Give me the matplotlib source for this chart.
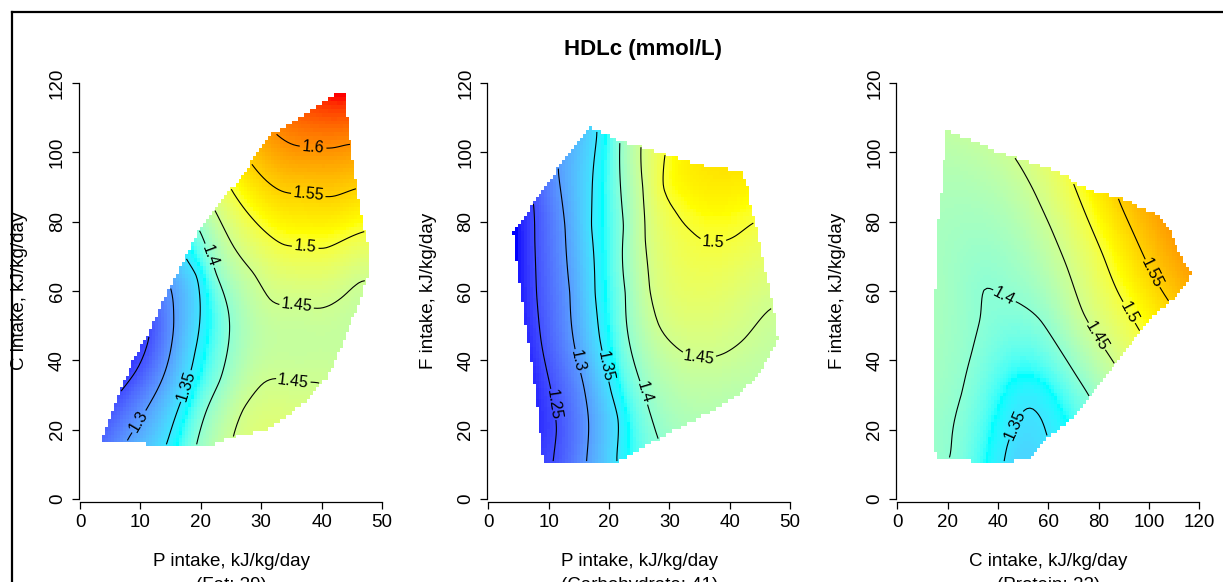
import numpy as np
import matplotlib
matplotlib.use("Agg")
import matplotlib.pyplot as plt
from matplotlib.colors import ListedColormap
from matplotlib.path import Path
from matplotlib.lines import Line2D

plt.rcParams['font.family'] = ['Liberation Sans', 'DejaVu Sans']

W, H, DPI = 1223, 582, 100

TITLE = "HDLc (mmol/L)"
X_LABELS = ["P intake, kJ/kg/day", "P intake, kJ/kg/day", "C intake, kJ/kg/day"]
X_NOTES = ["(Fat: 39)", "(Carbohydrate: 41)", "(Protein: 22)"]
Y_LABELS = ["C intake, kJ/kg/day", "F intake, kJ/kg/day", "F intake, kJ/kg/day"]
X_TICKS = [[0, 10, 20, 30, 40, 50], [0, 10, 20, 30, 40, 50], [0, 20, 40, 60, 80, 100, 120]]
Y_TICKS = [0, 20, 40, 60, 80, 100, 120]
LEVELS = [1.25, 1.30, 1.35, 1.40, 1.45, 1.50, 1.55, 1.60]
COLOR_RANGE = (1.22, 1.66)
RAMP_COLORS = ["#0000FF", "#00FFFF", "#FFFF00", "#FF0000"]

# ---- Panel 1: P vs C intake at fat 39 -------------------------------------
FAT_HULL = [(3.6, 16.5), (11.0, 16.5), (11.3, 15.2), (21.2, 15.2), (25.4, 18.1),
            (30.9, 20.0), (34.8, 24.8), (38.1, 29.6), (40.8, 35.4), (43.6, 46.0),
            (46.1, 56.5), (47.7, 65.2), (47.9, 72.4), (46.9, 77.7), (45.8, 89.2),
            (45.0, 97.9), (44.2, 107.5), (43.6, 117.1), (42.9, 117.1), (38.6, 112.3),
            (35.3, 108.5), (32.0, 105.1), (29.2, 98.8), (26.5, 92.1), (22.6, 84.4),
            (19.3, 75.8), (17.4, 69.0), (14.3, 58.5), (11.6, 47.9), (8.8, 39.2),
            (6.6, 30.6), (4.4, 21.0)]
FAT_ISO = {
    1.30: [(7.9, 17.1), (11.6, 27.7), (13.8, 35.4), (15.2, 45.0), (15.5, 53.7), (15.2, 59.4)],
    1.35: [(14.3, 15.7), (16.0, 24.8), (17.5, 32.0), (19.0, 42.1), (19.9, 53.7), (19.3, 64.2), (17.7, 69.0)],
    1.40: [(19.3, 15.7), (21.0, 25.8), (23.2, 34.4), (24.6, 45.0), (24.6, 53.7), (22.6, 64.7),
           (21.3, 71.0), (20.1, 76.3)],
    1.45: [(22.5, 82.7), (25.4, 72.9), (28.7, 65.2), (31.5, 57.5), (35.5, 56.0), (40.0, 55.1),
           (43.6, 58.5), (46.6, 62.8),
           (25.4, 18.1), (27.0, 25.8), (30.4, 33.5), (35.0, 34.0), (39.5, 33.5)],
    1.50: [(25.4, 88.3), (28.7, 80.6), (33.7, 73.4), (37.0, 72.8), (40.6, 72.4), (47.2, 77.2)],
    1.55: [(28.7, 96.0), (33.4, 88.8), (37.5, 88.0), (41.9, 87.3), (45.5, 89.4)],
    1.60: [(33.1, 104.4), (35.3, 102.2), (38.5, 101.5), (41.9, 101.3), (44.2, 102.2)],
}
FAT_SPOTS = [(43.0, 116.0, 1.66), (5.0, 20.0, 1.27), (9.0, 38.0, 1.245), (12.0, 48.0, 1.255),
             (36.0, 45.0, 1.44), (33.0, 24.0, 1.465)]
FAT_LABELS = [(38.6, 101.7), (37.8, 87.8), (37.3, 72.9), (35.9, 56.1), (35.3, 33.9),
              (21.2, 70.0), (17.7, 32.5), (9.7, 22.4)]

# ---- Panel 2: P vs F intake at carbohydrate 41 ----------------------------
CARB_HULL = [(3.9, 77.2), (5.2, 79.6), (8.0, 87.3), (11.3, 95.0), (14.6, 103.2), (16.6, 107.5),
             (18.8, 106.1), (21.5, 103.7), (26.2, 101.3), (30.7, 98.8), (35.6, 96.4),
             (42.3, 94.5), (43.1, 90.2), (43.6, 84.4), (44.8, 76.7), (45.6, 69.0),
             (46.7, 61.3), (47.5, 53.7), (48.1, 46.4), (47.2, 43.1), (44.8, 35.4),
             (41.7, 30.1), (36.7, 24.8), (31.2, 20.0), (27.3, 16.2), (22.9, 11.8),
             (21.3, 10.4), (9.1, 10.4), (8.3, 21.0), (6.9, 40.2), (5.2, 59.4)]
CARB_ISO = {
    1.25: [(10.8, 10.9), (11.3, 20.0), (9.9, 35.4), (8.8, 45.0), (8.0, 59.4), (7.7, 74.8), (7.5, 84.9)],
    1.30: [(16.3, 11.3), (16.6, 22.9), (15.7, 33.5), (14.1, 46.0), (13.5, 59.4), (12.7, 78.7), (11.6, 95.0)],
    1.35: [(21.3, 11.8), (21.5, 22.9), (20.4, 30.6), (18.5, 46.0), (17.7, 59.4), (17.1, 78.7), (18.0, 105.6)],
    1.40: [(28.2, 17.1), (26.8, 24.8), (24.6, 36.8), (23.2, 46.9), (22.7, 59.4), (22.4, 78.7), (21.8, 103.2)],
    1.45: [(30.7, 44.5), (28.3, 50.0), (26.8, 60.0), (26.0, 75.0), (25.6, 90.0), (25.3, 101.5),
           (39.2, 42.1), (42.3, 46.0), (47.0, 55.1)],
    1.50: [(29.0, 90.2), (31.0, 83.0), (33.7, 77.2), (40.9, 75.8), (43.9, 79.6)],
}
CARB_SPOTS = [(4.5, 77.0, 1.22), (9.5, 11.5, 1.245), (40.0, 92.0, 1.53), (40.0, 30.0, 1.43)]
CARB_LABELS = [(37.3, 76.3), (35.1, 43.1), (25.7, 30.6), (19.3, 38.3), (14.6, 39.7), (10.5, 27.2)]

# ---- Panel 3: C vs F intake at protein 22 ---------------------------------
PROT_HULL = [(19.6, 106.3), (24.2, 105.1), (33.5, 102.5), (40.8, 100.0), (47.4, 98.4),
             (60.7, 95.5), (67.9, 93.1), (72.6, 90.4), (80.5, 88.3), (88.5, 87.1),
             (96.4, 84.4), (103.7, 82.0), (107.7, 78.7), (112.3, 71.0), (117.0, 65.2),
             (115.6, 62.3), (111.0, 58.5), (100.4, 51.7), (89.8, 42.1), (81.9, 34.4),
             (76.6, 29.6), (71.3, 24.3), (64.6, 20.0), (59.3, 17.1), (52.7, 11.3),
             (41.5, 10.4), (29.5, 10.4), (29.5, 11.5), (15.6, 11.5), (14.6, 15.2),
             (14.6, 48.4), (15.6, 76.7), (17.2, 87.3), (18.3, 96.4)]
PROT_ISO = {
    1.35: [(42.8, 12.3), (46.0, 20.0), (52.7, 26.3), (57.3, 22.9), (60.0, 17.1)],
    1.40: [(20.9, 12.3), (22.3, 21.0), (25.6, 30.6), (29.5, 42.1), (32.8, 51.7), (34.4, 60.4),
           (42.0, 58.5), (50.3, 55.6), (56.7, 51.7), (64.6, 43.1), (71.3, 35.4), (76.3, 29.6)],
    1.45: [(47.0, 98.1), (54.0, 89.2), (60.7, 78.7), (67.3, 67.1), (73.9, 53.7), (80.0, 46.0), (86.5, 38.8)],
    1.50: [(69.9, 91.2), (75.2, 81.5), (81.9, 70.0), (87.5, 59.9), (92.0, 54.0), (96.4, 48.4)],
    1.55: [(88.5, 85.4), (93.0, 78.0), (97.1, 71.4), (102.0, 64.0), (107.0, 58.0)],
}
PROT_SPOTS = [(116.0, 65.0, 1.585), (48.0, 12.0, 1.34), (18.0, 60.0, 1.415), (20.0, 100.0, 1.43),
              (17.0, 20.0, 1.405)]
PROT_LABELS = [(48.1, 21.0), (42.1, 58.0), (79.2, 46.9), (91.8, 53.7), (101.7, 65.2)]

PANELS = [
    dict(hull=FAT_HULL, iso=FAT_ISO, spots=FAT_SPOTS, labels=FAT_LABELS, xmax=50,
         left=80.0, right=382.0),
    dict(hull=CARB_HULL, iso=CARB_ISO, spots=CARB_SPOTS, labels=CARB_LABELS, xmax=50,
         left=488.3, right=790.0),
    dict(hull=PROT_HULL, iso=PROT_ISO, spots=PROT_SPOTS, labels=PROT_LABELS, xmax=120,
         left=897.3, right=1199.3),
]
AX_TOP, AX_BOTTOM = 83.0, 499.0

_WHITE = np.array([0.95047, 1.0, 1.08883])
_M = np.array([[0.4124, 0.3576, 0.1805], [0.2126, 0.7152, 0.0722], [0.0193, 0.1192, 0.9505]])


def rgb_to_lab(rgb):
    lin = np.where(rgb <= 0.04045, rgb / 12.92, ((rgb + 0.055) / 1.055) ** 2.4)
    xyz = lin @ _M.T / _WHITE
    f = np.where(xyz > 0.008856, np.cbrt(xyz), 7.787 * xyz + 16 / 116)
    return np.stack([116 * f[..., 1] - 16, 500 * (f[..., 0] - f[..., 1]),
                     200 * (f[..., 1] - f[..., 2])], -1)


def lab_to_rgb(lab):
    fy = (lab[..., 0] + 16) / 116
    fx = fy + lab[..., 1] / 500
    fz = fy - lab[..., 2] / 200
    f = np.stack([fx, fy, fz], -1)
    xyz = np.where(f > 0.206893, f ** 3, (f - 16 / 116) / 7.787) * _WHITE
    lin = xyz @ np.linalg.inv(_M).T
    lin = np.clip(lin, 0, 1)
    rgb = np.where(lin <= 0.0031308, 12.92 * lin, 1.055 * lin ** (1 / 2.4) - 0.055)
    return np.clip(rgb, 0, 1)


def lab_ramp(hex_colors, n=256):
    rgb = np.array([[int(h[k:k + 2], 16) / 255 for k in (1, 3, 5)] for h in hex_colors])
    lab = rgb_to_lab(rgb)
    t = np.linspace(0, 1, n)
    stops = np.linspace(0, 1, len(hex_colors))
    out = np.stack([np.interp(t, stops, lab[:, j]) for j in range(3)], -1)
    return ListedColormap(lab_to_rgb(out))


def thin_plate(px, py, pv, qx, qy, sx, sy, smooth=1e-4):
    """Thin-plate spline through scattered readings, evaluated at (qx, qy)."""
    p = np.column_stack([px / sx, py / sy])
    n = len(p)
    d = np.sqrt(((p[:, None, :] - p[None, :, :]) ** 2).sum(-1))
    with np.errstate(divide="ignore", invalid="ignore"):
        K = np.where(d > 0, d ** 2 * np.log(d), 0.0)
    A = np.zeros((n + 3, n + 3))
    A[:n, :n] = K + smooth * np.eye(n)
    A[:n, n] = 1.0
    A[:n, n + 1:] = p
    A[n, :n] = 1.0
    A[n + 1:, :n] = p.T
    b = np.concatenate([pv, np.zeros(3)])
    c = np.linalg.solve(A, b)
    q = np.column_stack([qx.ravel() / sx, qy.ravel() / sy])
    dq = np.sqrt(((q[:, None, :] - p[None, :, :]) ** 2).sum(-1))
    with np.errstate(divide="ignore", invalid="ignore"):
        Kq = np.where(dq > 0, dq ** 2 * np.log(dq), 0.0)
    z = Kq @ c[:n] + c[n] + c[n + 1] * q[:, 0] + c[n + 2] * q[:, 1]
    return z.reshape(qx.shape)


cmap = lab_ramp(RAMP_COLORS)

fig = plt.figure(figsize=(W / DPI, H / DPI), dpi=DPI)

for i, pnl in enumerate(PANELS):
    ax = fig.add_axes([pnl["left"] / W, 1 - AX_BOTTOM / H,
                       (pnl["right"] - pnl["left"]) / W, (AX_BOTTOM - AX_TOP) / H])
    hull = np.array(pnl["hull"])
    xs, ys, vs = [], [], []
    for lev, pts in pnl["iso"].items():
        for x, y in pts:
            xs.append(x); ys.append(y); vs.append(lev)
    for x, y, v in pnl["spots"]:
        xs.append(x); ys.append(y); vs.append(v)
    xs, ys, vs = map(np.array, (xs, ys, vs))

    n = 90
    xe = np.linspace(hull[:, 0].min(), hull[:, 0].max(), n + 1)
    ye = np.linspace(hull[:, 1].min(), hull[:, 1].max(), n + 1)
    xc = 0.5 * (xe[:-1] + xe[1:])
    yc = 0.5 * (ye[:-1] + ye[1:])
    GX, GY = np.meshgrid(xc, yc)
    Z = thin_plate(xs, ys, vs, GX, GY, pnl["xmax"], 120.0)
    inside = Path(hull).contains_points(np.column_stack([GX.ravel(), GY.ravel()]),
                                        radius=0.3).reshape(GX.shape)
    Zm = np.ma.masked_where(~inside, Z)

    ax.pcolormesh(xe, ye, Zm, cmap=cmap, vmin=COLOR_RANGE[0], vmax=COLOR_RANGE[1],
                  shading="flat", antialiased=False, rasterized=True)
    cs = ax.contour(GX, GY, Zm, levels=LEVELS, colors="black", linewidths=0.8)
    ax.clabel(cs, fmt=lambda v: f"{v:g}", manual=pnl["labels"], inline=True,
              inline_spacing=4, fontsize=11.5)

    ax.set_xlim(0, pnl["xmax"])
    ax.set_ylim(0, 120)
    ax.set_xticks(X_TICKS[i])
    ax.set_yticks(Y_TICKS)
    for s in ("top", "right"):
        ax.spines[s].set_visible(False)
    ax.spines["left"].set_position(("outward", 1.0))
    ax.spines["bottom"].set_position(("outward", 2.0))
    for s in ("left", "bottom"):
        ax.spines[s].set_linewidth(0.9)
    ax.tick_params(direction="out", length=5, width=0.9, labelsize=13.5, pad=4)
    for lab in ax.get_yticklabels():
        lab.set_rotation(90)
        lab.set_va("center")
        lab.set_ha("right")

    cx = 0.5 * (pnl["left"] + pnl["right"])
    fig.text(cx / W, 1 - 566.5 / H, X_LABELS[i], ha="center", va="baseline", fontsize=13.5)
    fig.text(cx / W, 1 - 590.0 / H, X_NOTES[i], ha="center", va="baseline", fontsize=13.5)
    ylx = pnl["left"] - 60.0
    fig.text(ylx / W, 1 - 291.0 / H, Y_LABELS[i], ha="center", va="center",
             rotation=90, fontsize=13.5)

fig.text(643 / W, 1 - 50 / H, TITLE, ha="center", va="center", fontsize=16, fontweight="bold")

# outer frame
fig.add_artist(Line2D([12 / W, 12 / W], [0, 1 - 12 / H], color="black", lw=1.6,
                      transform=fig.transFigure))
fig.add_artist(Line2D([12 / W, 1.0], [1 - 12 / H, 1 - 12 / H], color="black", lw=1.6,
                      transform=fig.transFigure))

fig.savefig("out.png", dpi=DPI)
